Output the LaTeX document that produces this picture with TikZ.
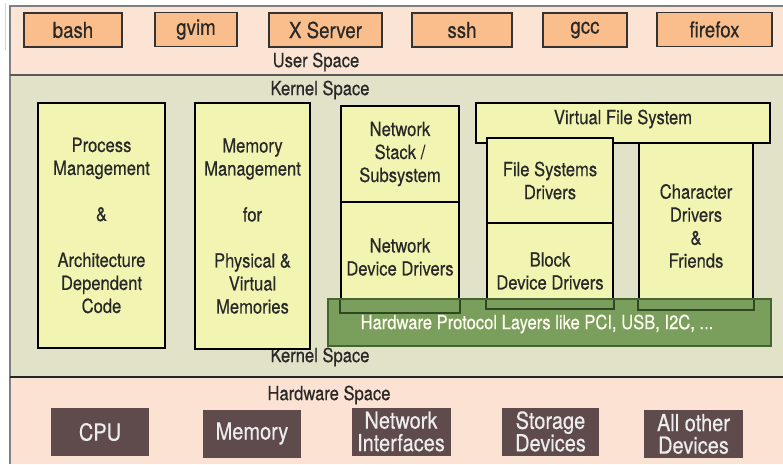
\documentclass[tikz,border=0pt]{standalone}
\usepackage{fontspec}
\setmainfont{TeX Gyre Heros}[FakeStretch=0.85,FakeBold=0.4]
\definecolor{userbg}{RGB}{252,228,212}
\definecolor{kernbg}{RGB}{226,226,200}
\definecolor{hwbg}{RGB}{252,226,210}
\definecolor{appfill}{RGB}{249,190,140}
\definecolor{modfill}{RGB}{242,245,178}
\definecolor{busfill}{RGB}{122,158,92}
\definecolor{busedge}{RGB}{70,100,50}
\definecolor{devfill}{RGB}{95,74,76}
\definecolor{txtgray}{RGB}{40,40,40}

\begin{document}
\begin{tikzpicture}[x=1pt,y=-1pt]
    \useasboundingbox (0,0) rectangle (783,464);

    % the three spaces
    \fill[userbg] (10,6) rectangle (783,75);
    \fill[kernbg] (10,75) rectangle (783,377);
    \fill[hwbg] (10,377) rectangle (783,464);
    \draw[gray, line width=1.2pt] (783,6) -- (10,6) -- (10,464);
    \draw[gray!70!black, line width=1.2pt] (10,75) -- (783,75);
    \draw[black!85, line width=1.6pt] (10,377) -- (783,377);
    \draw[yellow!90!orange, line width=1pt] (5,3) -- (5,50);

    \begin{scope}[every node/.style={inner sep=0pt, text=txtgray, font=\fontsize{19.5}{23}\selectfont}]
        \node (userlbl) at (316,62) {User Space};
        \node (kerntop) at (320,90) {Kernel Space};
        \node (kernbot) at (320,357) {Kernel Space};
        \node (hwlbl) at (329,395) {Hardware Space};
    \end{scope}

    % user applications
    \begin{scope}[every node/.style={draw=black!80, line width=1.6pt, fill=appfill, inner sep=0pt,
            minimum height=34pt, text=txtgray, font=\fontsize{22}{23}\selectfont}]
        \node[minimum width=98pt] (bash) at (73,30) {bash};
        \node[minimum width=82pt] (gvim) at (196,29.5) {gvim};
        \node[minimum width=113pt] (xserver) at (325.5,30) {X Server};
        \node[minimum width=100pt] (ssh) at (462,30) {ssh};
        \node[minimum width=84pt] (gcc) at (585,30) {gcc};
        \node[minimum width=115pt] (firefox) at (714.5,29.5) {firefox};
    \end{scope}

    % kernel subsystems
    \begin{scope}[every node/.style={draw=black, line width=1.6pt, fill=modfill, inner sep=0pt,
            align=center, text=txtgray, font=\fontsize{19.5}{23}\selectfont}]
        \node[minimum width=127pt, minimum height=245pt] (procmgmt) at (101.5,225.5)
            {Process\\Management\\[23pt]\&\\[23pt]Architecture\\Dependent\\Code};
        \node[minimum width=115pt, minimum height=246pt] (memmgmt) at (252.5,226)
            {Memory\\Management\\[23pt]for\\[23pt]Physical \&\\Virtual\\Memories};
        \node[minimum width=118pt, minimum height=110pt] (netdrv) at (400,257)
            {Network\\Device Drivers};
        \node[minimum width=118pt, minimum height=96pt] (netstack) at (400,154)
            {Network\\Stack /\\Subsystem};
        \node[minimum width=114pt, minimum height=166pt] (chardrv) at (696,226)
            {Character\\Drivers\\\&\\Friends};
        \node[minimum width=294pt, minimum height=40pt] (vfs) at (623,123) {};
        \node[minimum width=126pt, minimum height=85pt] (blkdrv) at (550,265.5) {};
        \node[minimum width=126pt, minimum height=85pt] (fsdrv) at (550,180.5)
            {File Systems\\Drivers};
        \node[draw=none, fill=none] (vfslbl) at (623,119) {Virtual File System};
        \node[draw=none, fill=none] (blklbl) at (550,271) {Block\\Device Drivers};
    \end{scope}

    % bus layer over the drivers, the box edges show through it
    \fill[busfill] (328,299) rectangle (vfs.east |- 0,346);
    \begin{scope}[busedge!70!black, line width=1.6pt]
        \draw (netdrv.south west |- 0,299) -- (netdrv.south west) -- (netdrv.south east) -- (netdrv.south east |- 0,299);
        \draw (blkdrv.south west |- 0,299) -- (blkdrv.south west) -- (blkdrv.south east) -- (blkdrv.south east |- 0,299);
        \draw (chardrv.south west |- 0,299) -- (chardrv.south west) -- (chardrv.south east) -- (chardrv.south east |- 0,299);
    \end{scope}
    \draw[busedge, line width=1.4pt] (328,299) rectangle (vfs.east |- 0,346);
    \node[inner sep=0pt, text=white!94!yellow, font=\fontsize{19.5}{22}\selectfont]
        (hwprotolbl) at (537,324) {Hardware Protocol Layers like PCI, USB, I2C, ...};

    % hardware devices
    \begin{scope}[every node/.style={fill=devfill, inner sep=0pt, align=center, minimum height=48pt,
            text=white!93!black, font=\fontsize{23.5}{22.5}\selectfont}]
        \node[minimum width=98pt] (cpu) at (100,432) {CPU};
        \node[minimum width=98pt] (mem) at (252,433.5) {Memory};
        \node[minimum width=99pt] (netif) at (401,431.5) {Network\\Interfaces};
        \node[minimum width=97pt] (storage) at (550.5,431.5) {Storage\\Devices};
        \node[minimum width=99pt] (otherdev) at (693.5,434) {All other\\Devices};
    \end{scope}
\end{tikzpicture}
\end{document}
